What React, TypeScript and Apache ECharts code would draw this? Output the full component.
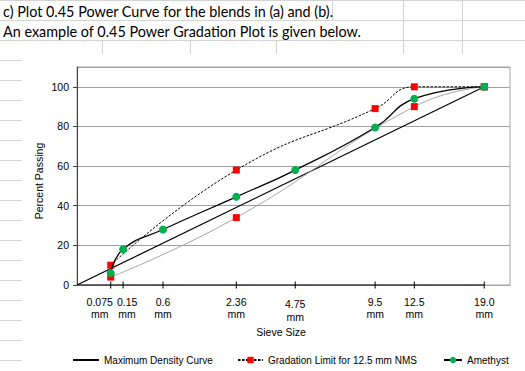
import React, { useEffect, useRef } from "react";
import * as echarts from "echarts";

// ---- data ----
const sieveSizes = [0.075, 0.15, 0.6, 2.36, 4.75, 9.5, 12.5, 19.0];
const sieveLabels = ["0.075\nmm", "0.15\nmm", "0.6\nmm", "2.36\nmm", "4.75\nmm", "9.5\nmm", "12.5\nmm", "19.0\nmm"];
const amethyst = [6, 18, 28, 44.5, 58, 79.5, 94, 100];
const upperSizes = [0.075, 2.36, 9.5, 12.5, 19.0];
const upperLimit = [10, 58, 89, 100, 100];
const lowerSizes = [0.075, 2.36, 12.5, 19.0];
const lowerLimit = [4, 34, 90, 100];
const mdcSizes = [0, 19.0];
const mdcValues = [0, 100];
const yMin = 0;
const yMax = 110;
const yInterval = 20;
const xMax = 4;
// which sieve labels go on the first / second label row (avoids overlap culling)
const labelRowA = [0, 2, 3, 5, 7];
const labelRowB = [1, 4, 6];

const title1 = "c) Plot 0.45 Power Curve for the blends in (a) and (b).";
const title2 = "An example of 0.45 Power Gradation Plot is given below.";
const gradName = "Gradation Limit for 12.5 mm NMS";

const pw = (d: number) => Math.pow(d, 0.45);
const zip = (xs: number[], ys: number[]) => xs.map((x, i) => [pw(x), ys[i]]);

const FONT = "'Liberation Sans', Arial, sans-serif";
const SHEET_FONT = "Lato, 'Open Sans', sans-serif";
const CELL = "#d4d4d4";

// per-label nudges (style only)
const labelRich: Record<string, any> = {
  l0: { padding: [0, 22, 0, 0] },
  l1: { padding: [0, 0, 0, 8] },
  l2: {},
  l3: {},
  l4: { padding: [2, 0, 0, 0], lineHeight: 13.5 },
  l5: {},
  l6: {},
  l7: {},
};

function sheetGraphics() {
  const g: any[] = [];
  [0.5, 20.5, 40.5].forEach((y) =>
    g.push({ type: "line", shape: { x1: 0, y1: y, x2: 525, y2: y }, style: { stroke: CELL, lineWidth: 1 }, silent: true })
  );
  for (let y = 60.5; y < 371; y += 20) {
    g.push({ type: "line", shape: { x1: 0, y1: y, x2: 22, y2: y }, style: { stroke: CELL, lineWidth: 1 }, silent: true });
  }
  const cols: [number, number, number][] = [
    [332.5, 0, 20],
    [403.5, 0, 54],
    [462.5, 0, 54],
    [102.5, 40, 54],
    [190.5, 40, 54],
    [276.5, 40, 54],
  ];
  cols.forEach(([x, y1, y2]) =>
    g.push({ type: "line", shape: { x1: x, y1, x2: x, y2 }, style: { stroke: CELL, lineWidth: 1 }, silent: true })
  );
  g.push({
    type: "text",
    x: 3,
    y: 11,
    style: { text: title1, fontFamily: SHEET_FONT, fontSize: 14.4, fill: "#000", verticalAlign: "middle" },
  });
  g.push({
    type: "text",
    x: 3,
    y: 31,
    style: { text: title2, fontFamily: SHEET_FONT, fontSize: 14.4, fill: "#000", verticalAlign: "middle" },
  });
  g.push({
    type: "text",
    x: 39,
    y: 181,
    rotation: Math.PI / 2,
    style: { text: "Percent Passing", fontFamily: FONT, fontSize: 10.5, fill: "#000", align: "center", verticalAlign: "middle" },
  });
  g.push({
    type: "text",
    x: 281,
    y: 331.5,
    style: { text: "Sieve Size", fontFamily: FONT, fontSize: 10.5, fill: "#000", align: "center", verticalAlign: "middle" },
  });
  return g;
}

export default function App() {
  const ref = useRef<HTMLDivElement>(null);
  useEffect(() => {
    if (!ref.current) return;
    const chart = echarts.init(ref.current, null, { renderer: "svg" });
    const xs = sieveSizes.map(pw);
    const legendText = { fontFamily: FONT, fontSize: 10, color: "#000", lineHeight: 12 };
    const labelFormatter = (v: number) => {
      const i = xs.findIndex((x) => Math.abs(x - v) < 1e-6);
      return i >= 0 ? `{l${i}|${sieveLabels[i]}}` : "";
    };
    const baseLabel = {
      showMinLabel: true,
      showMaxLabel: true,
      hideOverlap: false,
      margin: 11,
      fontFamily: FONT,
      fontSize: 10.5,
      lineHeight: 12,
      color: "#000",
      formatter: labelFormatter,
      rich: labelRich,
    };
    const option: any = {
      animation: false,
      backgroundColor: "#fff",
      grid: {
        left: 77,
        top: 67,
        right: 15,
        bottom: 86,
        show: true,
        borderColor: "#a6a6a6",
        borderWidth: 1,
        containLabel: false,
        outerBoundsMode: "none",
      },
      xAxis: [
        {
          type: "value",
          position: "bottom",
          min: 0,
          max: xMax,
          axisLine: { show: true, lineStyle: { color: "#a6a6a6", width: 1 } },
          axisTick: { show: false },
          splitLine: { show: false },
          axisLabel: { ...baseLabel, customValues: labelRowA.map((i) => xs[i]) },
        },
        {
          type: "value",
          position: "bottom",
          min: 0,
          max: xMax,
          axisLine: { show: false },
          axisTick: { show: false },
          splitLine: { show: false },
          axisLabel: { ...baseLabel, customValues: labelRowB.map((i) => xs[i]) },
        },
      ],
      yAxis: {
        type: "value",
        min: yMin,
        max: yMax,
        interval: yInterval,
        axisLine: { show: true, lineStyle: { color: "#404040", width: 1 } },
        axisTick: { show: true, length: 4, lineStyle: { color: "#404040" } },
        splitLine: { show: true, lineStyle: { color: "#a0a0a0", width: 1 } },
        axisLabel: { showMaxLabel: false, margin: 8, fontFamily: FONT, fontSize: 10.5, color: "#000" },
      },
      legend: [
        { left: 72, top: 354, padding: 0, itemWidth: 26, itemHeight: 8, textStyle: legendText, data: ["Maximum Density Curve"] },
        { left: 237, top: 354, padding: 0, itemWidth: 25, itemHeight: 8, textStyle: legendText, data: [gradName] },
        { left: 443, top: 354, padding: 0, itemWidth: 18, itemHeight: 8, textStyle: legendText, data: ["Amethyst"] },
      ],
      graphic: sheetGraphics(),
      series: [
        {
          name: "sieveTicks",
          type: "line",
          silent: true,
          clip: false,
          data: [{ value: [0, 0], symbol: "none" }, ...xs.map((x) => [x, 0])],
          symbol: "rect",
          symbolSize: [1, 7],
          itemStyle: { color: "#000" },
          lineStyle: { color: "#000", width: 1 },
          z: 1,
        },
        {
          name: "Maximum Density Curve",
          type: "line",
          data: zip(mdcSizes, mdcValues),
          symbol: "none",
          itemStyle: { color: "rgba(0,0,0,0)" },
          lineStyle: { color: "#000", width: 1.2 },
          z: 2,
        },
        {
          name: gradName,
          type: "line",
          smooth: true,
          data: zip(upperSizes, upperLimit),
          symbol: "rect",
          symbolSize: 7,
          itemStyle: { color: "#ff0000" },
          lineStyle: { color: "#000", width: 1, type: [2.5, 1.5] },
          z: 3,
        },
        {
          name: gradName,
          type: "line",
          smooth: true,
          data: zip(lowerSizes, lowerLimit),
          symbol: "rect",
          symbolSize: 7,
          itemStyle: { color: "#ff0000" },
          lineStyle: { color: "#a6a6a6", width: 1 },
          z: 3,
        },
        {
          name: "Amethyst",
          type: "line",
          smooth: true,
          data: zip(sieveSizes, amethyst),
          symbol: "circle",
          symbolSize: 8,
          itemStyle: { color: "#00b050" },
          lineStyle: { color: "#000", width: 1.3 },
          z: 4,
        },
      ],
    };
    chart.setOption(option);
    return () => chart.dispose();
  }, []);
  return <div ref={ref} style={{ position: "absolute", left: 0, top: 0, width: 525, height: 371 }} />;
}
